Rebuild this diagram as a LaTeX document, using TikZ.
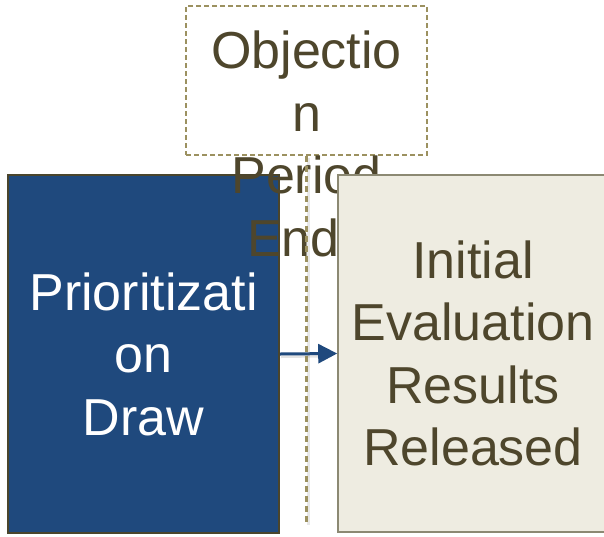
\documentclass[tikz,border=0pt]{standalone}
\usepackage{fontspec}
\setmainfont{Liberation Sans}
\usetikzlibrary{arrows.meta}
\definecolor{boxblue}{RGB}{31,73,125}
\definecolor{blueedge}{RGB}{74,69,44}
\definecolor{olivetext}{RGB}{78,70,44}
\definecolor{dashtan}{RGB}{156,145,96}
\definecolor{beigefill}{RGB}{238,236,225}
\definecolor{beigeedge}{RGB}{140,137,115}
\tikzset{
  bigtext/.style={font=\fontsize{52pt}{62.5pt}\selectfont, align=center, inner sep=0pt},
  bluebox/.style={draw=blueedge, line width=2pt, fill=boxblue, text=white, bigtext},
  beigebox/.style={draw=beigeedge, line width=1.6pt, fill=beigefill, text=olivetext, bigtext},
  dashbox/.style={draw=dashtan, line width=1.8pt, dash pattern=on 5pt off 3pt, inner sep=0pt},
  dashlabel/.style={text=olivetext, bigtext},
  connector/.style={draw=boxblue, line width=3pt, -{Triangle[length=19pt,width=19pt]}},
  connshadow/.style={draw=black!60, opacity=0.18, line width=4pt},
  guideline/.style={draw=dashtan, line width=2.2pt, dash pattern=on 6pt off 4pt},
  guideshadow/.style={draw=black!60, opacity=0.15, line width=3pt}
}
\begin{document}
\begin{tikzpicture}[x=1pt,y=-1pt]
\useasboundingbox (0,0) rectangle (604,536);
\fill[white] (0,0) rectangle (604,536);
\node[bluebox, minimum width=271pt, minimum height=358pt] (prio) at (143.5,354) {Prioritizati\\on\\Draw};
\node[dashbox, minimum width=241pt, minimum height=149pt] (objbox) at (306.5,80.5) {};
\node[dashlabel] (objlabel) at (306.5,144) {Objectio\\n\\Period\\Ends};
\node[beigebox, minimum width=270pt, minimum height=357pt] (init) at (473,353.5) {Initial\\Evaluation\\Results\\Released};
\coordinate (guideend) at (306.5,523);
\coordinate (objbot) at (objbox.south);
\draw[connshadow] ([xshift=1pt,yshift=-2pt]prio.east) -- ([xshift=-17pt,yshift=-2pt]init.west);
\draw[connector] (prio.east) -- (init.west);
\draw[guideshadow] ([xshift=2pt,yshift=-2pt]objbot) -- ([xshift=2pt,yshift=-2pt]guideend);
\draw[guideline] (objbot) -- (guideend);
\end{tikzpicture}
\end{document}
